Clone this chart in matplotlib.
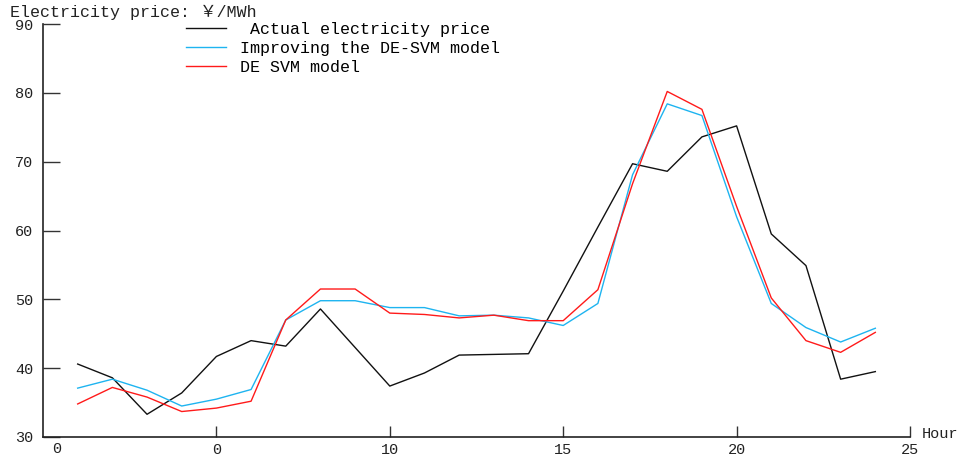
import matplotlib
matplotlib.use("Agg")
import matplotlib.pyplot as plt

hours = list(range(1, 25))
actual = [40.6, 38.6, 33.3, 36.4, 41.7, 44.0, 43.2, 48.6, 43.0, 37.4, 39.3, 41.9,
          42.0, 42.1, 51.2, 60.5, 69.7, 68.6, 73.6, 75.2, 59.5, 54.9, 38.4, 39.5]
improved = [37.1, 38.4, 36.8, 34.5, 35.5, 36.9, 47.0, 49.8, 49.8, 48.8, 48.8, 47.6,
            47.7, 47.3, 46.2, 49.4, 68.1, 78.4, 76.7, 62.0, 49.4, 45.9, 43.8, 45.8]
desvm = [34.8, 37.2, 35.8, 33.7, 34.2, 35.2, 47.0, 51.5, 51.5, 48.0, 47.8, 47.3,
         47.7, 46.9, 46.9, 51.4, 66.8, 80.2, 77.6, 63.5, 50.2, 44.0, 42.3, 45.2]

labels = [" Actual electricity price", "Improving the DE-SVM model", "DE SVM model"]
xticks = [5, 10, 15, 20, 25]
xticklabels = ["0", "10", "15", "20", "25"]
yticks = [30, 40, 50, 60, 70, 80, 90]

FONT = ["Liberation Mono", "Noto Sans CJK SC", "DejaVu Sans"]
plt.rcParams['font.family'] = FONT
plt.rcParams['font.size'] = 11

W, H = 963, 459
fig = plt.figure(figsize=(W / 100, H / 100), dpi=100)
ax = fig.add_axes([43 / W, (H - 437) / H, 867 / W, 413 / H])

ax.plot(hours, actual, color="#111111", lw=1.0, label=labels[0])
ax.plot(hours, improved, color="#1EB4F0", lw=1.0, label=labels[1])
ax.plot(hours, desvm, color="#FF1A1A", lw=1.0, label=labels[2])

ax.set_xlim(0, 25)
ax.set_ylim(30, 90)
for s in ["top", "right"]:
    ax.spines[s].set_visible(False)
for s in ["left", "bottom"]:
    ax.spines[s].set_linewidth(1.2)
    ax.spines[s].set_color("#222222")

ax.set_xticks(xticks)
ax.set_xticklabels(xticklabels)
ax.set_yticks(yticks)
ax.tick_params(axis="both", direction="in", length=8, width=1.0, color="#333333",
               labelsize=11, labelcolor="#222222")
ax.tick_params(axis="y", length=12, pad=7)
ax.tick_params(axis="x", pad=4)

# stray first x label
ax.text(0.4, -0.012, "0", transform=ax.get_xaxis_transform(), ha="center", va="top",
        fontsize=11, color="#222222")

fig.text(10 / W, 1 - 12 / H, "Electricity price: ￥/MWh", ha="left", va="center",
         fontsize=12, color="#222222")
fig.text(922 / W, 1 - 434 / H, "Hour", ha="left", va="center", fontsize=11, color="#222222")

leg = ax.legend(loc="upper left", bbox_to_anchor=(186 / W, 1 - 22 / H),
                bbox_transform=fig.transFigure, frameon=False, fontsize=12,
                handlelength=2.4, handletextpad=0.85, labelspacing=0.24,
                borderaxespad=0, borderpad=0)

fig.savefig("out.png", dpi=100, facecolor="white")
